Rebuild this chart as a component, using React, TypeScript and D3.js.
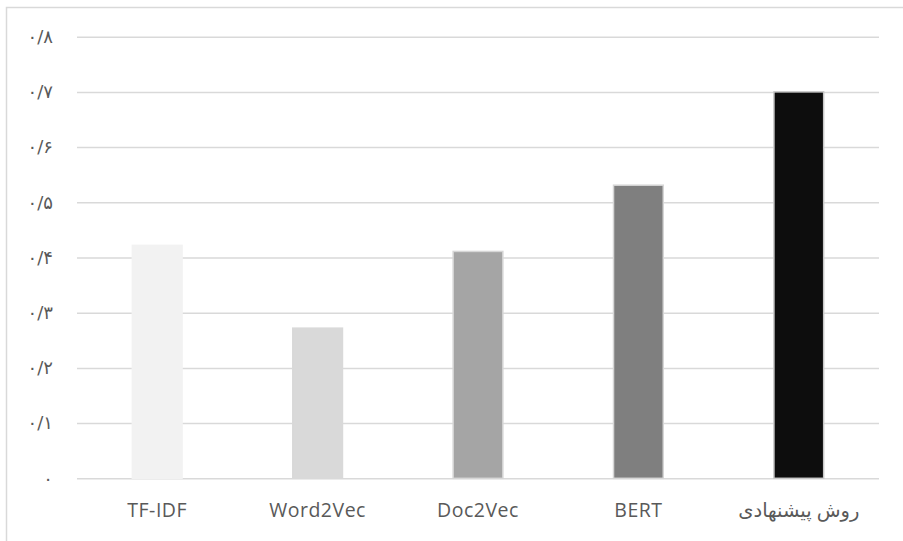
import React, { useEffect, useRef } from "react";
import * as d3 from "d3";

const categories = ["TF-IDF", "Word2Vec", "Doc2Vec", "BERT", "روش پیشنهادی"];
const scores = [0.422, 0.272, 0.411, 0.531, 0.7];
const yTicks = [0, 0.1, 0.2, 0.3, 0.4, 0.5, 0.6, 0.7, 0.8];

const barColors = ["#f2f2f2", "#d9d9d9", "#a5a5a5", "#7f7f7f", "#0d0d0d"];
const barStrokes = ["#f2f2f2", "#d9d9d9", "#d6d6d6", "#d6d6d6", "#c8c8c8"];

const persianDigits = "۰۱۲۳۴۵۶۷۸۹";
const toPersian = (v: number) =>
  v === 0
    ? "۰"
    : v
        .toFixed(1)
        .replace(".", "/")
        .replace(/[0-9]/g, (c) => persianDigits[+c]);

const W = 903;
const H = 541;
const margin = { top: 36.7, right: 24, bottom: 62.7, left: 77 };

const App: React.FC = () => {
  const svgRef = useRef<SVGSVGElement>(null);

  useEffect(() => {
    const svg = d3.select(svgRef.current);
    svg.selectAll("*").remove();

    const x = d3
      .scaleBand()
      .domain(categories)
      .range([margin.left, W - margin.right])
      .paddingInner(0.69)
      .paddingOuter(0.345);

    const y = d3
      .scaleLinear()
      .domain([0, 0.8])
      .range([H - margin.bottom, margin.top]);

    // chart frame (only top and left edges show in the crop)
    svg
      .append("rect")
      .attr("x", 6.5)
      .attr("y", 7.5)
      .attr("width", 2000)
      .attr("height", 2000)
      .attr("fill", "none")
      .attr("stroke", "#d9d9d9")
      .attr("stroke-width", 1.5);

    const yAxis = svg
      .append("g")
      .attr("transform", `translate(${margin.left},0)`)
      .call(
        d3
          .axisLeft(y)
          .tickValues(yTicks)
          .tickSize(-(W - margin.left - margin.right))
          .tickPadding(24)
          .tickFormat((d) => toPersian(+d))
      );
    yAxis.select(".domain").remove();
    yAxis
      .selectAll(".tick line")
      .attr("stroke", "#d9d9d9")
      .attr("stroke-width", 1.5);
    yAxis
      .selectAll(".tick text")
      .attr("fill", "#595959")
      .style("font-family", "'DejaVu Sans', sans-serif")
      .style("font-size", "18px");

    svg
      .append("g")
      .selectAll("rect")
      .data(scores)
      .enter()
      .append("rect")
      .attr("x", (_, i) => x(categories[i])!)
      .attr("y", (d) => y(d))
      .attr("width", x.bandwidth())
      .attr("height", (d) => y(0) - y(d))
      .attr("fill", (_, i) => barColors[i])
      .attr("stroke", (_, i) => barStrokes[i])
      .attr("stroke-width", 1.5);

    svg
      .append("g")
      .selectAll("text")
      .data(categories)
      .enter()
      .append("text")
      .attr("x", (d) => x(d)! + x.bandwidth() / 2)
      .attr("y", 517)
      .attr("text-anchor", "middle")
      .attr("fill", "#595959")
      .style("font-family", "'Open Sans', 'DejaVu Sans', sans-serif")
      .style("font-size", "19.5px")
      .style("letter-spacing", "0.5px")
      .text((d) => d);
  }, []);

  return (
    <svg
      ref={svgRef}
      width={W}
      height={H}
      style={{ position: "absolute", left: 0, top: 0, background: "#fff" }}
    />
  );
};

export default App;
